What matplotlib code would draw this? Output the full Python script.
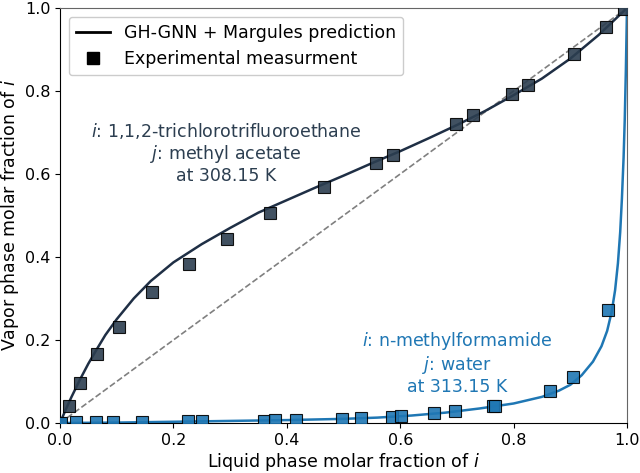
import matplotlib
matplotlib.use("Agg")
import matplotlib.pyplot as plt
from matplotlib.lines import Line2D

# System 1: 1,1,2-trichlorotrifluoroethane / methyl acetate at 308.15 K
exp1_x = [0.0, 0.015, 0.035, 0.065, 0.104, 0.163, 0.227, 0.295, 0.370, 0.466,
          0.557, 0.587, 0.698, 0.728, 0.798, 0.825, 0.907, 0.963, 0.995]
exp1_y = [0.0, 0.041, 0.096, 0.166, 0.232, 0.315, 0.383, 0.444, 0.506, 0.568,
          0.627, 0.646, 0.720, 0.741, 0.793, 0.815, 0.890, 0.954, 0.998]
pred1_x = [0.0, 0.005, 0.01, 0.02, 0.035, 0.05, 0.065, 0.08, 0.1, 0.13, 0.16, 0.2,
           0.25, 0.3, 0.35, 0.4, 0.45, 0.5, 0.55, 0.6, 0.65, 0.7, 0.75, 0.8,
           0.85, 0.9, 0.95, 1.0]
pred1_y = [0.0, 0.016, 0.032, 0.062, 0.104, 0.143, 0.178, 0.212, 0.250, 0.300,
           0.342, 0.387, 0.431, 0.470, 0.507, 0.537, 0.567, 0.596, 0.626, 0.655,
           0.686, 0.718, 0.752, 0.790, 0.830, 0.878, 0.935, 1.0]

# System 2: n-methylformamide / water at 313.15 K
exp2_x = [0.002, 0.028, 0.063, 0.093, 0.144, 0.225, 0.251, 0.359, 0.379, 0.417,
          0.497, 0.531, 0.586, 0.601, 0.660, 0.697, 0.763, 0.768, 0.864, 0.904,
          0.967]
exp2_y = [0.0, 0.003, 0.003, 0.003, 0.003, 0.004, 0.004, 0.006, 0.007, 0.007,
          0.010, 0.011, 0.015, 0.017, 0.024, 0.028, 0.041, 0.042, 0.077, 0.112,
          0.272]
pred2_x = [0.0, 0.1, 0.2, 0.3, 0.4, 0.5, 0.56, 0.62, 0.68, 0.74, 0.8, 0.85, 0.88,
           0.9, 0.92, 0.94, 0.955, 0.965, 0.973, 0.979, 0.984, 0.988, 0.991,
           0.994, 0.996, 0.998, 1.0]
pred2_y = [0.0, 0.001, 0.003, 0.005, 0.007, 0.010, 0.013, 0.018, 0.025, 0.035,
           0.047, 0.063, 0.078, 0.092, 0.115, 0.148, 0.185, 0.222, 0.268, 0.32,
           0.385, 0.46, 0.54, 0.64, 0.73, 0.85, 1.0]

dark = "#1f2f45"
dark_m = "#2c3e50"
blue = "#1f77b4"

fig = plt.figure(figsize=(6.4, 4.73), dpi=100)
ax = fig.add_axes([60/640, 1-423/473, 567/640, 415/473])

ax.plot([0, 1], [0, 1], ls="--", color="gray", lw=1.2, zorder=1)
ax.plot(pred1_x, pred1_y, color=dark, lw=1.8, zorder=2)
ax.plot(pred2_x, pred2_y, color=blue, lw=1.8, zorder=2)
ax.plot(exp1_x, exp1_y, ls="none", marker="s", ms=8.5, mfc=dark_m, mec="black",
        mew=0.8, alpha=0.9, zorder=3)
ax.plot(exp2_x, exp2_y, ls="none", marker="s", ms=8.5, mfc=blue, mec="black",
        mew=0.8, alpha=0.9, zorder=3)

ax.text(0.293, 0.651, "$i$: 1,1,2-trichlorotrifluoroethane\n$j$: methyl acetate\nat 308.15 K",
        ha="center", va="center", color=dark_m, fontsize=12.5, linespacing=1.15)
ax.text(0.70, 0.145, "$i$: n-methylformamide\n$j$: water\nat 313.15 K",
        ha="center", va="center", color=blue, fontsize=12.5, linespacing=1.15)

ax.set_xlim(0, 1)
ax.set_ylim(0, 1)
ax.set_xticks([0, 0.2, 0.4, 0.6, 0.8, 1.0])
ax.set_yticks([0, 0.2, 0.4, 0.6, 0.8, 1.0])
ax.tick_params(labelsize=11.5)
ax.set_xlabel("Liquid phase molar fraction of $i$", fontsize=12.5, labelpad=2)
ax.set_ylabel("Vapor phase molar fraction of $i$", fontsize=12.5, labelpad=3)
for s in ["top", "right"]:
    ax.spines[s].set_color("0.4")

handles = [Line2D([], [], color="black", lw=2),
           Line2D([], [], ls="none", marker="s", ms=8, color="black")]
ax.legend(handles, ["GH-GNN + Margules prediction", "Experimental measurment"],
          loc="upper left", fontsize=12.5, framealpha=1)

fig.savefig("out.png", dpi=100)
